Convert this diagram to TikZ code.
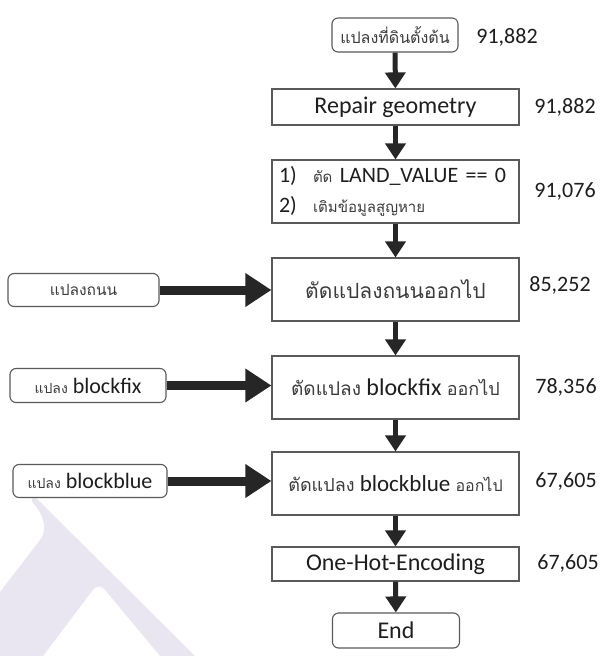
\documentclass[tikz,border=0pt]{standalone}
\usepackage{fontspec}
\setmainfont{Carlito}
\newfontfamily\thaifont[Script=Thai]{Loma}
\usetikzlibrary{arrows.meta}

\definecolor{edge}{HTML}{5A5A5A}
\definecolor{ink}{HTML}{1E1E1E}
\definecolor{thaiink}{HTML}{3C3C3C}
\definecolor{arrowc}{HTML}{262626}
\definecolor{wmark}{HTML}{E9E6F1}

% Thai text at a given size
\newcommand\thaiT[2]{{\thaifont\color{thaiink}\fontsize{#1}{#1}\selectfont #2}}

\tikzset{
  roundbox/.style={draw=edge, line width=1.1pt, fill=white, rounded corners=6pt,
    inner sep=0pt, text=ink, font=\fontsize{24}{28}\selectfont},
  rectbox/.style={draw=edge, line width=1.1pt, fill=white,
    inner sep=0pt, text=ink, font=\fontsize{24}{28}\selectfont},
  count/.style={text=ink, inner sep=0pt, font=\fontsize{22}{26}\selectfont},
  vflow/.style={draw=arrowc, line width=5pt, -{Triangle[width=20pt,length=16pt]}},
  hflow/.style={draw=arrowc, line width=9pt, -{Triangle[width=32pt,length=26pt]}}
}

\begin{document}
\begin{tikzpicture}[x=1pt, y=-1pt]
\useasboundingbox (0,0) rectangle (605,656);
\fill[white] (0,0) rectangle (605,656);

% faint logo mark in the lower left corner
\fill[wmark] (36,498) -- (195,656) -- (160,656) -- (106,591)
  .. controls (101,585) and (97,585) .. (92,591) -- (43,656) -- (0,656) -- (0,592)
  -- (40,540) .. controls (48,530) and (44,515) .. (33,503)
  .. controls (30,499) and (33,496) .. (36,498) -- cycle;

% main chain of steps
\node[roundbox, minimum width=126pt, minimum height=34pt] (start) at (395,35)
  {\thaiT{16}{แปลงที่ดินตั้งต้น}};
\node[rectbox, minimum width=247pt, minimum height=36pt] (repair) at (395.5,107)
  {Repair geometry};
\node[rectbox, minimum width=247pt, minimum height=63pt, text width=233pt,
      inner xsep=7pt, align=left, font=\fontsize{22}{30}\selectfont] (clean) at (395.5,191.5)
  {\makebox[34pt][l]{1)}\thaiT{15}{ตัด} LAND\_VALUE == 0\\
   \makebox[34pt][l]{2)}\thaiT{15}{เติมข้อมูลสูญหาย}};
\node[rectbox, minimum width=247pt, minimum height=63pt] (road) at (395.5,289.5)
  {\thaiT{21}{ตัดแปลงถนนออกไป}};
\node[rectbox, minimum width=247pt, minimum height=63pt] (fix) at (395.5,387.5)
  {\thaiT{19}{ตัดแปลง} blockfix \thaiT{18}{ออกไป}};
\node[rectbox, minimum width=247pt, minimum height=63pt,
      font=\fontsize{23}{27}\selectfont] (blue) at (395.5,483.5)
  {\thaiT{18}{ตัดแปลง} blockblue \thaiT{16}{ออกไป}};
\node[rectbox, minimum width=247pt, minimum height=34pt] (onehot) at (395.5,564)
  {One-Hot-Encoding};
\node[roundbox, minimum width=127pt, minimum height=35pt] (finish) at (396,630.5)
  {End};

% side inputs
\node[roundbox, minimum width=151pt, minimum height=33pt] (inroad) at (83.5,290)
  {\thaiT{15.5}{แปลงถนน}};
\node[roundbox, minimum width=156pt, minimum height=34pt,
      font=\fontsize{22}{26}\selectfont] (infix) at (88,385.5)
  {\thaiT{14}{แปลง} blockfix};
\node[roundbox, minimum width=154pt, minimum height=33pt,
      font=\fontsize{22}{26}\selectfont] (inblue) at (90,481)
  {\thaiT{14}{แปลง} blockblue};

% record counts
\node[count] (c1) at (507,37) {91,882};
\node[count] (c2) at (565,107) {91,882};
\node[count] (c3) at (565,191) {91,076};
\node[count] (c4) at (560,285) {85,252};
\node[count] (c5) at (566,387) {78,356};
\node[count] (c6) at (566,481) {67,605};
\node[count] (c7) at (568,563) {67,605};

% flow arrows
\draw[vflow] (start) -- (repair);
\draw[vflow] (repair) -- (clean);
\draw[vflow] (clean) -- (road);
\draw[vflow] (road) -- (fix);
\draw[vflow] (fix) -- (blue);
\draw[vflow] (blue) -- (onehot);
\draw[vflow] (onehot) -- (finish);

\draw[hflow] (inroad.east) -- (road.west |- inroad.east);
\draw[hflow] (infix.east) -- (fix.west |- infix.east);
\draw[hflow] (inblue.east) -- (blue.west |- inblue.east);
\end{tikzpicture}
\end{document}
